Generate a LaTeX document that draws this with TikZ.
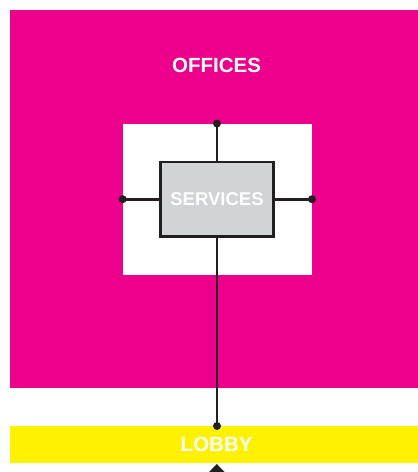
\documentclass[tikz,border=0pt]{standalone}
\usepackage{fontspec}
\setmainfont{Liberation Sans}
\definecolor{mag}{HTML}{EC008C}
\definecolor{yel}{HTML}{FFF200}
\definecolor{svc}{HTML}{D1D3D4}
\definecolor{ink}{HTML}{231F20}
\begin{document}
\begin{tikzpicture}[x=1pt,y=-1pt,
  zone/.style={draw=none,inner sep=0pt,outer sep=0pt,anchor=north west},
  label/.style={text=white,font=\bfseries\fontsize{20.5}{22}\selectfont,inner sep=0pt},
  wire/.style={draw=ink,line width=2.6pt},
  dot/.style={fill=ink,draw=none}]
\useasboundingbox (0,0) rectangle (418,472);
\node[zone,fill=mag,minimum width=408.5pt,minimum height=378pt] (offices) at (9.5,10) {};
\node[zone,fill=white,minimum width=189.3pt,minimum height=151.2pt] (core) at (122.7,123.5) {};
\node[zone,fill=yel,minimum width=408.5pt,minimum height=37pt] (lobby) at (9.5,426) {};
\node[label] (officestxt) at (216.6,65.3) {OFFICES};
\node[label] (lobbytxt) at (216.6,444.5) {LOBBY};
\node[draw=ink,line width=2.6pt,fill=svc,minimum width=112.5pt,minimum height=74.5pt,inner sep=0pt,
      text=white,font=\bfseries\fontsize{18.5}{20}\selectfont] (services) at (217,199.2) {SERVICES};
\coordinate (ctop) at (core.north -| services.north);
\coordinate (cleft) at (core.west |- services.west);
\coordinate (cright) at (core.east |- services.east);
\coordinate (ltop) at (lobby.north -| services.south);
\draw[wire] (services.north) -- (ctop);
\draw[wire] (services.west) -- (cleft);
\draw[wire] (services.east) -- (cright);
\draw[wire] (services.south) -- (ltop);
\foreach \p in {ctop,cleft,cright,ltop} \fill[dot] (\p) circle (4pt);
\fill[ink] (216.8,464) -- (225,472.5) -- (208.6,472.5) -- cycle;
\end{tikzpicture}
\end{document}
